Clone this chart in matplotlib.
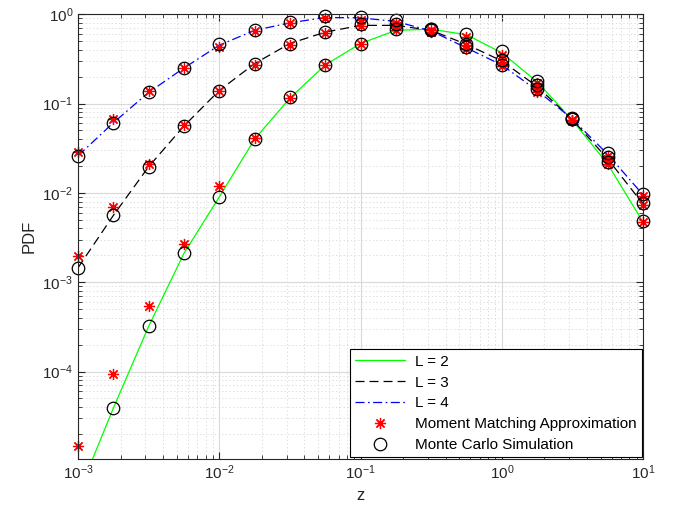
import numpy as np
import matplotlib
matplotlib.use("Agg")
import matplotlib.pyplot as plt

plt.rcParams['font.family'] = ['Liberation Sans', 'DejaVu Sans']
plt.rcParams['mathtext.fontset'] = 'custom'
plt.rcParams['mathtext.rm'] = 'Liberation Sans'
plt.rcParams['lines.scale_dashes'] = False

z = [1e-3, 1.78e-3, 3.16e-3, 5.62e-3, 1e-2, 1.78e-2, 3.16e-2, 5.62e-2,
     0.1, 0.178, 0.316, 0.562, 1.0, 1.78, 3.16, 5.62, 10.0]

# curves
line_L2 = [4.2e-6, 3.9e-5, 3.2e-4, 0.0021, 0.009, 0.040, 0.115, 0.27,
           0.47, 0.66, 0.68, 0.59, 0.37, 0.175, 0.065, 0.021, 0.0047]
line_L3 = [0.00145, 0.0056, 0.0196, 0.056, 0.14, 0.28, 0.47, 0.63,
           0.75, 0.75, 0.66, 0.46, 0.30, 0.155, 0.066, 0.024, 0.0075]
line_L4 = [0.026, 0.061, 0.133, 0.25, 0.45, 0.66, 0.80, 0.92,
           0.91, 0.83, 0.65, 0.42, 0.27, 0.14, 0.067, 0.027, 0.0095]

# moment matching approximation (stars)
mm_L2 = [1.45e-5, 9.5e-5, 5.4e-4, 0.0027, 0.012, 0.041, 0.115, 0.27,
         0.47, 0.66, 0.67, 0.56, 0.35, 0.17, 0.064, 0.021, 0.0047]
mm_L3 = [0.00195, 0.0069, 0.021, 0.058, 0.138, 0.27, 0.45, 0.62,
         0.73, 0.73, 0.64, 0.45, 0.29, 0.15, 0.065, 0.023, 0.0074]
mm_L4 = [0.029, 0.068, 0.14, 0.25, 0.43, 0.65, 0.79, 0.90,
         0.87, 0.80, 0.64, 0.41, 0.26, 0.135, 0.066, 0.026, 0.0093]

# monte carlo simulation (circles)
mc_L2 = [np.nan, 3.9e-5, 3.2e-4, 0.0021, 0.009, 0.040, 0.117, 0.27,
         0.47, 0.68, 0.69, 0.60, 0.39, 0.18, 0.067, 0.022, 0.0048]
mc_L3 = [0.00145, 0.0056, 0.0196, 0.056, 0.14, 0.28, 0.47, 0.63,
         0.77, 0.77, 0.67, 0.47, 0.31, 0.16, 0.068, 0.025, 0.0077]
mc_L4 = [0.026, 0.061, 0.135, 0.25, 0.46, 0.67, 0.81, 0.95,
         0.94, 0.86, 0.68, 0.43, 0.27, 0.145, 0.069, 0.028, 0.0097]

fig = plt.figure(figsize=(6.8, 5.19), dpi=100)
ax = fig.add_axes([0.1147, 0.1156, 0.831, 0.857])

ax.plot(z, line_L2, '-', color='#00ff00', lw=0.9, label='L = 2')
ax.plot(z, line_L3, color='k', lw=0.9, dashes=(6.5, 3.6), label='L = 3')
ax.plot(z, line_L4, color='b', lw=0.9, dashes=(6.5, 2.5, 1.2, 2.5),
        label='L = 4')

for i, mm in enumerate([mm_L2, mm_L3, mm_L4]):
    ax.plot(z, mm, ls='none', marker=(8, 2, 0), color='r', ms=8, mew=0.9,
            clip_on=False,
            label='Moment Matching Approximation' if i == 0 else None)
for i, mc in enumerate([mc_L2, mc_L3, mc_L4]):
    ax.plot(z, mc, 'o', mfc='none', mec='k', ms=9, mew=0.9, clip_on=False,
            label='Monte Carlo Simulation' if i == 0 else None)

ax.set_xscale('log')
ax.set_yscale('log')
ax.set_xlim(1e-3, 10)
ax.set_ylim(1.05e-5, 1)
ax.set_xticks([1e-3, 1e-2, 1e-1, 1e0, 1e1])
ax.set_yticks([1e-4, 1e-3, 1e-2, 1e-1, 1e0])

ax.grid(True, which='major', color='#d9d9d9', lw=0.8, ls='-')
ax.grid(True, which='minor', color='#d9d9d9', lw=0.6, ls=':')
ax.set_axisbelow(True)
ax.tick_params(which='both', direction='in', top=True, right=True,
               labelsize=11, colors='#262626')
ax.tick_params(which='major', length=5)
ax.tick_params(which='minor', length=3)
for s in ax.spines.values():
    s.set_color('#262626')
    s.set_linewidth(0.8)

ax.set_xlabel('z', fontsize=12, color='#262626')
ax.set_ylabel('PDF', fontsize=12, color='#262626')

leg = ax.legend(loc='lower right', fontsize=11, fancybox=False,
                framealpha=1, edgecolor='k', borderaxespad=0.1,
                handlelength=3.3, handletextpad=0.6, borderpad=0.35,
                labelspacing=0.45)
leg.get_frame().set_linewidth(0.8)

fig.savefig('out.png', dpi=100)
